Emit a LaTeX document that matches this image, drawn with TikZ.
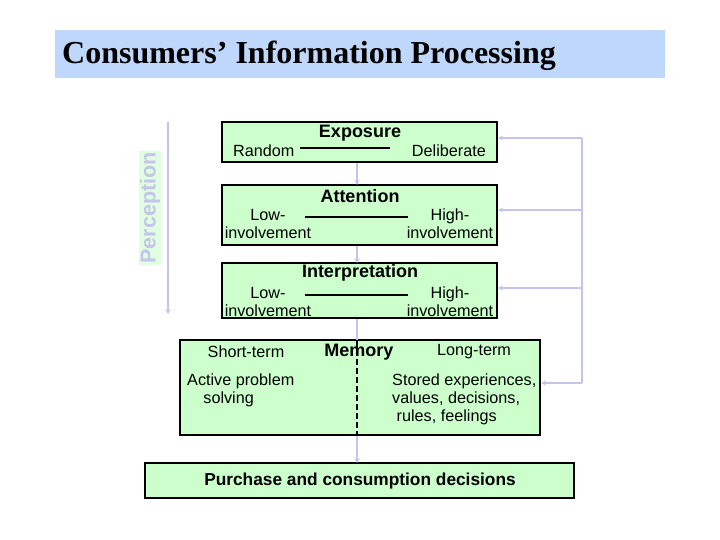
\documentclass[tikz,border=0pt]{standalone}
\usepackage{fontspec}
\setmainfont{Liberation Sans}
\newfontfamily\serifb{Liberation Serif}
\usetikzlibrary{arrows.meta}
\definecolor{boxg}{RGB}{204,255,204}
\definecolor{titleb}{RGB}{190,215,250}
\definecolor{lav}{RGB}{196,196,236}
\begin{document}
\begin{tikzpicture}[x=1pt,y=-1pt,
  box/.style={draw=black,line width=1.5pt,fill=boxg},
  fb/.style={draw=lav,line width=1.8pt,-{Stealth[length=5pt,width=5pt]}},
  t/.style={font=\fontsize{16.2}{18}\selectfont,inner sep=0pt,align=center},
  h/.style={font=\fontsize{18}{19}\selectfont\bfseries,inner sep=0pt}]
\useasboundingbox (0,0) rectangle (720,540);
\fill[white] (0,0) rectangle (720,540);
\node[fill=titleb,minimum width=610pt,minimum height=48pt,inner sep=0pt] (title) at (360,54) {};
\node[anchor=west,inner sep=0pt,font=\serifb\fontsize{32}{34}\selectfont\bfseries] at (62,56) {Consumers’ Information Processing};
% boxes
\path[box] (222,122) rectangle (497,162);
\path[box] (222,185) rectangle (497,245);
\path[box] (222,263) rectangle (497,318);
\path[box] (180,340) rectangle (540,435);
\path[box] (145,463) rectangle (574,498);
\node[h] at (360,133) {Exposure};
\node[t,anchor=west] at (233,151) {Random};
\node[t,anchor=east] at (486,151) {Deliberate};
\draw[line width=1.3pt] (300,148) -- (390,148);
\node[h] at (360,196) {Attention};
\node[t] at (268,224) {Low-\\involvement};
\node[t] at (450,224) {High-\\involvement};
\draw[line width=1.3pt] (305,217) -- (408,217);
\node[h] at (360,273) {Interpretation};
\node[t] at (268,302) {Low-\\involvement};
\node[t] at (450,302) {High-\\involvement};
\draw[line width=1.3pt] (305,295) -- (408,295);
\node[t] at (246,352) {Short-term};
\node[h] at (359,352) {Memory};
\node[t] at (474,352) {Long-term};
\node[t,align=left,anchor=north west] at (187,374) {Active problem\\\quad solving};
\node[t,align=left,anchor=north west] at (392,374) {Stored experiences,\\values, decisions,\\\ rules, feelings};
\node[h,font=\fontsize{17.3}{19}\selectfont\bfseries] at (360,481) {Purchase and consumption decisions};
% centre arrows
\draw[fb] (357,163) -- (357,185);
\draw[fb] (357,246) -- (357,263);
\draw[draw=lav,line width=1.8pt] (357,319) -- (357,340);
\draw[fb] (357,436) -- (357,463);
\draw[line width=1.5pt,dash pattern=on 6pt off 3pt] (357,341) -- (357,434);
% feedback
\draw[draw=lav,line width=1.8pt] (582,138) -- (582,383);
\draw[fb] (582,138) -- (498,138);
\draw[fb] (582,210) -- (498,210);
\draw[fb] (582,288) -- (498,288);
\draw[fb] (582,383) -- (541,383);
% perception
\draw[fb] (168,122) -- (168,314);
\node[rotate=90,fill=boxg!60,inner sep=1pt,text=lav,font=\fontsize{21.5}{22}\selectfont\bfseries] at (150,208) {Perception};
\end{tikzpicture}
\end{document}
